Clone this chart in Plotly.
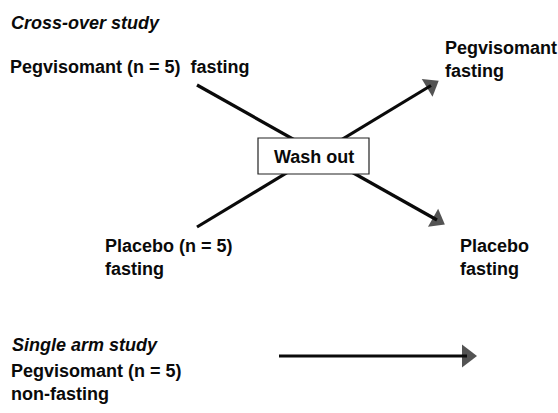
import plotly.graph_objects as go

# Diagram content (pixel-space coordinates of the flow diagram)
label_texts = [
    "<b><i>Cross-over study</i></b>",
    "<b>Pegvisomant (n = 5)  fasting</b>",
    "<b>Pegvisomant<br>fasting</b>",
    "<b>Placebo (n = 5)<br>fasting</b>",
    "<b>Placebo<br>fasting</b>",
    "<b><i>Single arm study</i></b>",
    "<b>Pegvisomant (n = 5)<br>non-fasting</b>",
]
label_x = [9, 8, 443, 103, 458, 10, 9]
label_y = [22.5, 66.5, 59.5, 257, 257.5, 344.5, 382.5]

arrow_start_x = [197, 197, 279]
arrow_start_y = [85, 227, 356]
arrow_end_x = [437, 431, 467]
arrow_end_y = [220, 85.5, 356]
arrow_head_size = [18, 18, 20]

box_text = "<b>Wash out</b>"
box_x = [258, 369]
box_y = [138, 174]

W, H = 558, 413
FONT = "Liberation Sans, Arial, sans-serif"
INK = "#0a0a0a"

fig = go.Figure()
for x0, y0, x1, y1, s in zip(arrow_start_x, arrow_start_y, arrow_end_x, arrow_end_y, arrow_head_size):
    fig.add_trace(go.Scatter(
        x=[x0, x1], y=[y0, y1], mode="lines+markers",
        line=dict(color=INK, width=3.2),
        marker=dict(symbol="triangle-up", size=[0, s], color=INK,
                    angleref="previous", line=dict(width=0)),
        hoverinfo="skip", showlegend=False,
    ))

fig.add_shape(type="rect", x0=box_x[0], x1=box_x[1], y0=box_y[0], y1=box_y[1],
              xref="x", yref="y", layer="above",
              line=dict(color="#222222", width=1.2), fillcolor="white")
fig.add_annotation(x=(box_x[0] + box_x[1]) / 2, y=(box_y[0] + box_y[1]) / 2 + 0.5,
                   text=box_text, showarrow=False, xanchor="center", yanchor="middle",
                   font=dict(family=FONT, size=18, color=INK))

for t, x, y in zip(label_texts, label_x, label_y):
    fig.add_annotation(x=x, y=y, text=t, showarrow=False, xanchor="left",
                       yanchor="middle", align="left",
                       font=dict(family=FONT, size=18, color=INK))

fig.update_layout(
    width=W, height=H, margin=dict(l=0, r=0, t=0, b=0),
    paper_bgcolor="white", plot_bgcolor="white",
    xaxis=dict(range=[0, W], visible=False, fixedrange=True),
    yaxis=dict(range=[H, 0], visible=False, fixedrange=True),
)
fig.write_html("out.html", config={"displayModeBar": False},
               post_script="document.body.style.margin='0px';")
